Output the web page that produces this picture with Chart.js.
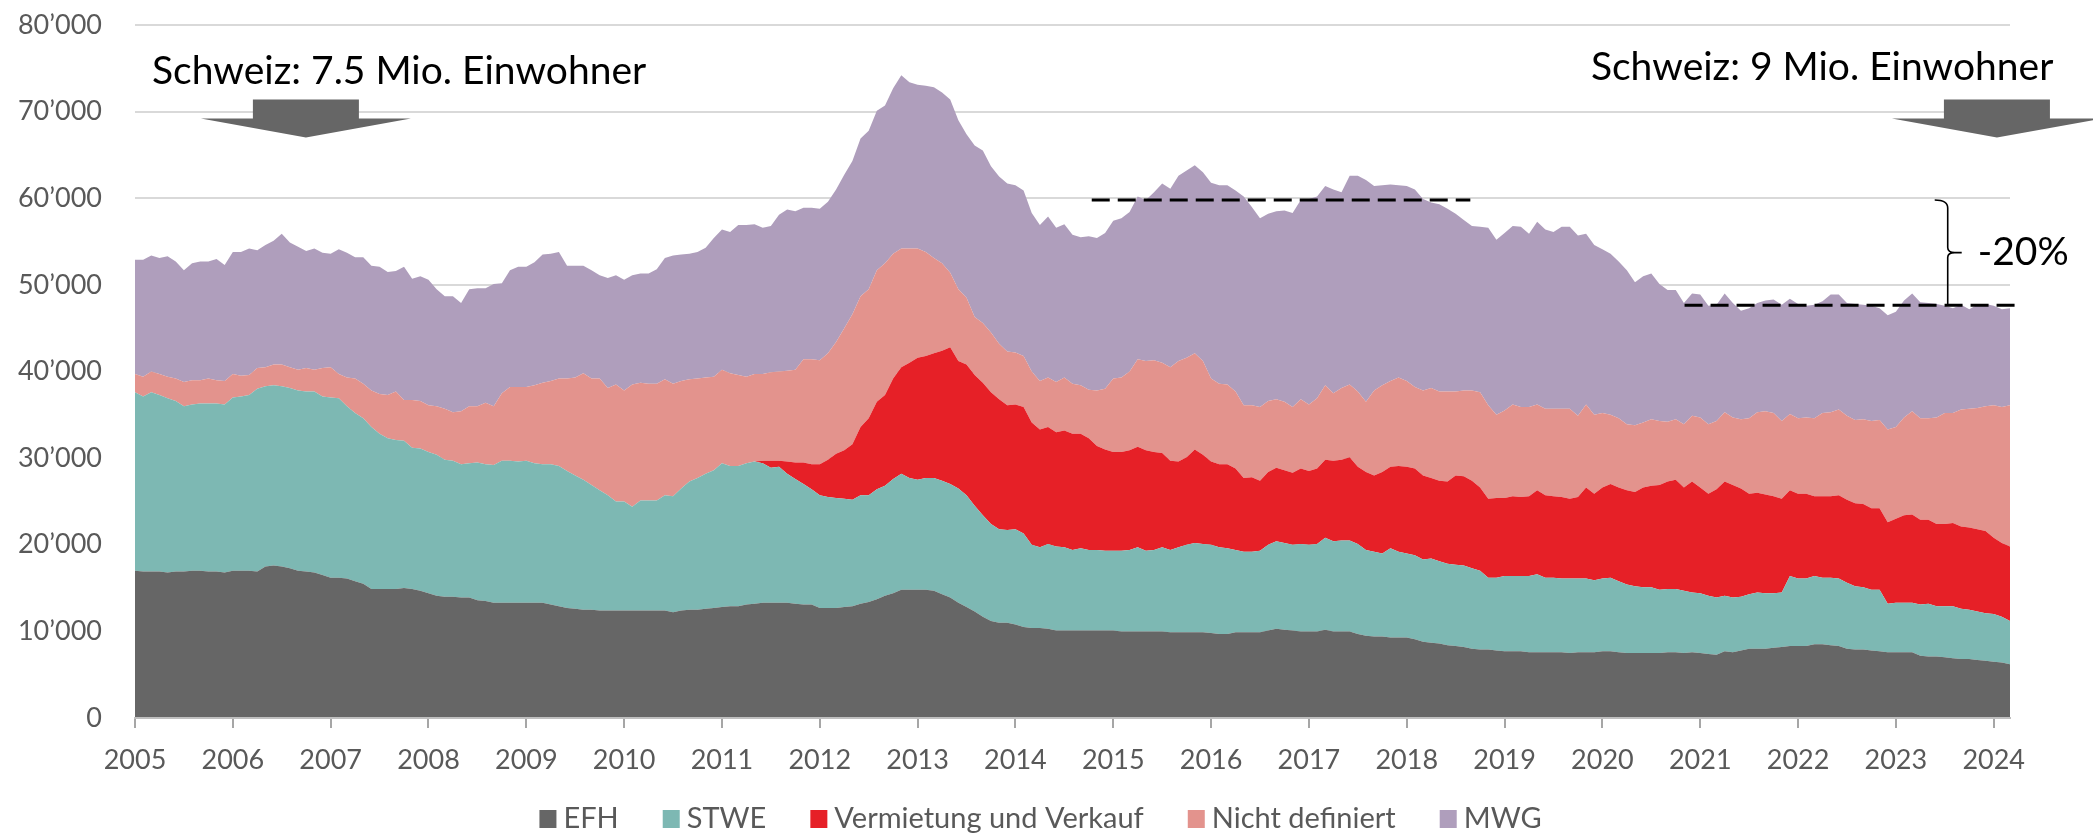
<!DOCTYPE html>
<html lang="de">
<head>
  <meta charset="UTF-8">
  <title>Inserate nach Objektart</title>
  <script src="https://cdn.jsdelivr.net/npm/chart.js"></script>
  <style>
    html, body { margin: 0; padding: 0; background: #fff; }
  </style>
</head>
<body>
  <canvas id="chart" width="2093" height="836"></canvas>

  <script>
    // Monthly values, January 2005 to March 2024 (one row per year)
    const startYear = 2005;

    const efh = [
      17000,16900,16900,16900,16800,16900,16900,17000,17000,16900,16900,16800,
      17000,17000,17000,16900,17500,17600,17500,17300,17000,16900,16800,16500,
      16200,16200,16100,15800,15500,14900,14900,14900,14900,15000,14900,14700,
      14400,14100,14000,14000,13900,13900,13600,13500,13300,13300,13300,13300,
      13300,13300,13300,13100,12900,12700,12600,12500,12500,12400,12400,12400,
      12400,12400,12400,12400,12400,12400,12200,12400,12500,12500,12600,12700,
      12800,12900,12900,13100,13200,13300,13300,13300,13300,13200,13100,13100,
      12700,12700,12700,12800,12900,13200,13400,13700,14100,14400,14800,14800,
      14800,14800,14700,14300,13900,13300,12800,12300,11700,11200,11000,11000,
      10800,10500,10400,10400,10300,10100,10100,10100,10100,10100,10100,10100,
      10100,10000,10000,10000,10000,10000,10000,9900,9900,9900,9900,9900,
      9800,9700,9700,9900,9900,9900,9900,10100,10300,10200,10100,10000,
      10000,10000,10200,10000,10000,10000,9700,9500,9400,9400,9300,9300,
      9300,9100,8800,8700,8600,8400,8300,8200,8000,7900,7900,7800,
      7700,7700,7700,7600,7600,7600,7600,7600,7500,7600,7600,7600,
      7700,7700,7600,7500,7500,7500,7500,7500,7600,7600,7500,7600,
      7500,7400,7300,7700,7600,7800,8000,8000,8000,8100,8200,8300,
      8300,8300,8500,8500,8400,8300,8000,7900,7900,7800,7700,7600,
      7600,7600,7600,7200,7100,7100,7000,6900,6800,6800,6700,6600,
      6500,6400,6200
    ];

    const stwe = [
      20600,20200,20700,20400,20100,19700,19100,19200,19300,19400,19400,19400,
      20000,20100,20300,21100,20800,20800,20800,20800,20800,20800,20900,20600,
      20800,20700,19900,19400,19100,18700,17900,17400,17200,17000,16300,16400,
      16300,16300,15800,15700,15400,15500,15900,15800,15900,16400,16400,16300,
      16400,16100,16000,16200,16200,15800,15400,15000,14400,13900,13300,12600,
      12600,12000,12700,12700,12700,13300,13400,14100,14800,15200,15600,15900,
      16600,16200,16200,16300,16400,16100,15600,15700,14900,14400,13900,13300,
      13000,12800,12700,12500,12300,12500,12300,12700,12700,13200,13400,12900,
      12700,12900,13000,13100,13100,13200,12900,12200,11700,11200,10800,10700,
      11000,10800,9600,9300,9800,9700,9600,9300,9500,9300,9300,9200,
      9200,9300,9400,9700,9300,9400,9700,9500,9800,10100,10300,10200,
      10200,10000,9900,9500,9300,9300,9400,9900,10100,10000,9900,10100,
      10000,10100,10600,10400,10500,10500,10400,9900,9800,9600,10300,9900,
      9700,9700,9500,9700,9500,9400,9400,9400,9300,9100,8300,8400,
      8700,8700,8700,8800,9000,8600,8600,8500,8600,8500,8500,8300,
      8400,8500,8200,7900,7700,7600,7600,7300,7300,7300,7200,6900,
      6900,6700,6600,6400,6300,6200,6300,6500,6400,6300,6300,8100,
      7800,7800,7900,7700,7800,7800,7600,7300,7200,7000,7100,5600,
      5700,5700,5700,5900,6100,5800,5900,6000,5800,5700,5600,5500,
      5500,5300,5000
    ];

    const vermietung = [
      0,0,0,0,0,0,0,0,0,0,0,0,
      0,0,0,0,0,0,0,0,0,0,0,0,
      0,0,0,0,0,0,0,0,0,0,0,0,
      0,0,0,0,0,0,0,0,0,0,0,0,
      0,0,0,0,0,0,0,0,0,0,0,0,
      0,0,0,0,0,0,0,0,0,0,0,0,
      0,0,0,0,0,300,800,700,1400,1900,2500,2900,
      3600,4300,5100,5600,6400,7900,8900,10100,10500,11600,12300,13300,
      14100,14100,14400,15000,15800,14700,15100,15100,15300,15200,15000,14400,
      14400,14600,14100,13600,13500,13200,13500,13400,13200,12900,12000,11700,
      11400,11400,11500,11600,11600,11300,10900,10300,9900,10100,10800,10300,
      9600,9600,9700,9400,8500,8600,8100,8400,8500,8400,8300,8700,
      8500,8700,9000,9300,9300,9600,8900,9000,8800,9400,9400,9900,
      10000,10000,9700,9300,9300,9500,10300,10300,10100,9600,9100,9200,
      9000,9200,9100,9200,9700,9500,9400,9400,9200,9400,10500,10000,
      10500,10800,10800,10900,10900,11500,11700,12100,12400,12600,11900,12800,
      12200,11800,12500,13200,13000,12500,11600,11500,11400,11200,10800,9900,
      9800,9800,9200,9400,9400,9600,9600,9600,9600,9400,9400,9400,
      9700,10100,10200,9800,9700,9500,9500,9600,9500,9500,9500,9500,
      8800,8500,8600
    ];

    const nichtDefiniert = [
      2100,2300,2400,2400,2500,2600,2800,2800,2700,2900,2700,2700,
      2700,2400,2300,2400,2200,2400,2500,2400,2400,2700,2500,3300,
      3500,2800,3300,4000,4000,4200,4600,5000,5600,4700,5500,5500,
      5400,5600,5900,5600,6100,6600,6500,7100,6800,7800,8500,8600,
      8500,9000,9400,9600,10100,10700,11300,12300,12300,12900,12400,13500,
      12800,14100,13600,13500,13500,13400,13000,12400,11800,11500,11100,10800,
      10800,10700,10500,10000,10100,10000,10200,10300,10500,10700,11900,12100,
      12000,12300,12900,14100,15000,15100,14900,15200,15200,14400,13700,13200,
      12600,12000,11000,10100,8600,8300,7700,6700,6900,6900,6400,6200,
      6000,5900,5900,5600,5700,5800,6100,5800,5600,5600,6400,7000,
      8500,8600,9100,10100,10300,10600,10400,10800,11600,11500,11100,10800,
      9600,9300,9200,8900,8400,8300,8500,8200,7900,7900,7600,8000,
      7700,8100,8600,7800,8300,8400,8700,8100,9800,10000,9900,10200,
      9900,9400,9800,10400,10300,10400,9700,9900,10400,11000,10800,9600,
      10100,10600,10400,10300,9900,10000,10100,10200,10400,9400,9600,9100,
      8600,8000,8000,7600,7700,7500,7700,7400,6900,7000,7300,7600,
      8100,8000,7900,8000,7800,8000,8700,9300,9600,9600,9000,8800,
      8700,8800,9000,9600,9700,9900,9700,9600,9800,10100,10200,10700,
      10600,11300,11900,11700,11700,12300,12800,12700,13500,13700,14000,14400,
      15300,15700,16300
    ];

    const mwg = [
      13200,13500,13400,13400,13900,13500,12900,13500,13700,13500,14000,13400,
      14100,14300,14600,13600,14100,14300,15100,14400,14200,13500,14000,13300,
      13100,14400,14400,14000,14600,14400,14700,14200,13900,15400,14000,14400,
      14500,13500,13000,13400,12500,13500,13600,13200,14100,12700,13500,13900,
      13900,14200,14800,14700,14600,13000,12900,12400,12500,11900,12700,12600,
      12800,12600,12600,12700,13200,14000,14800,14600,14500,14600,15000,16000,
      16200,16300,17300,17500,17300,16900,16900,18100,18600,18300,17500,17500,
      17500,17500,17600,17700,17700,18200,18300,18400,18200,19100,20000,19200,
      18900,19200,19700,19700,20000,19500,18900,19800,19900,19200,19300,19400,
      19300,19100,18300,18000,18600,17800,17700,17200,17100,17700,17600,18000,
      18200,18400,18400,18800,18600,19400,20700,20600,21400,21600,21700,21800,
      22600,22900,23000,23200,24100,22900,21800,21600,21700,22100,22400,23000,
      23700,23300,23000,23500,22600,24100,24900,25600,23600,23100,22700,22200,
      22500,22800,22100,21400,21600,21100,20500,19700,19000,19100,20500,20200,
      20500,20600,20800,20000,21100,20700,20400,21000,21000,20800,19700,19600,
      18900,18600,18100,17800,16500,16900,16800,15800,15200,14900,14000,14100,
      14200,13700,13400,13700,13200,12500,12700,12600,12800,13100,13400,13300,
      13200,12900,13100,12900,13600,13300,13000,13400,13200,13300,12900,13200,
      13300,13500,13600,13400,13300,13100,12400,12100,12100,11500,11900,11800,
      11500,11300,11200
    ];

    // month positions on the year axis
    const months = efh.map((_, i) => startYear + i / 12);

    // annotation values
    const levelBefore = { value: 59800, from: 2014.78, to: 2018.65 };
    const levelNow = { value: 47650, from: 2020.84, to: 2024.25 };
    const bracketAt = 2023.53;
    const dropText = '-20%';
    const populationNotes = [
      { text: 'Schweiz: 7.5 Mio. Einwohner', x: 2005.174, y: 73200, align: 'left', arrowX: 2006.747 },
      { text: 'Schweiz: 9 Mio. Einwohner', x: 2024.61, y: 73600, align: 'right', arrowX: 2024.033 }
    ];
    const arrowTip = 67000;

    const series = [
      { label: 'EFH', data: efh, color: '#666666' },
      { label: 'STWE', data: stwe, color: '#7DB8B3' },
      { label: 'Vermietung und Verkauf', data: vermietung, color: '#E62027' },
      { label: 'Nicht definiert', data: nichtDefiniert, color: '#E3938D' },
      { label: 'MWG', data: mwg, color: '#AF9EBC' }
    ];

    Chart.defaults.font.family = 'Lato';

    const annotations = {
      id: 'annotations',
      afterDraw(chart) {
        const { ctx, scales: { x, y } } = chart;
        ctx.save();

        // dashed level lines
        ctx.strokeStyle = '#000';
        ctx.lineWidth = 3;
        ctx.setLineDash([18, 8]);
        [levelBefore, levelNow].forEach(l => {
          const py = y.getPixelForValue(l.value);
          ctx.beginPath();
          ctx.moveTo(x.getPixelForValue(l.from), py);
          ctx.lineTo(x.getPixelForValue(l.to), py);
          ctx.stroke();
        });
        ctx.setLineDash([]);

        // curly bracket between the two levels
        const bx = x.getPixelForValue(bracketAt);
        const yt = y.getPixelForValue(levelBefore.value);
        const yb = y.getPixelForValue(levelNow.value);
        const ym = (yt + yb) / 2;
        ctx.lineWidth = 1.6;
        ctx.beginPath();
        ctx.moveTo(bx - 13, yt);
        ctx.quadraticCurveTo(bx, yt, bx, yt + 8);
        ctx.lineTo(bx, ym - 5);
        ctx.quadraticCurveTo(bx, ym, bx + 7, ym);
        ctx.quadraticCurveTo(bx, ym, bx, ym + 5);
        ctx.lineTo(bx, yb);
        ctx.moveTo(bx + 5, ym);
        ctx.lineTo(bx + 14, ym);
        ctx.stroke();

        ctx.fillStyle = '#000';
        ctx.font = '39px Lato';
        ctx.textAlign = 'left';
        ctx.textBaseline = 'middle';
        ctx.fillText(dropText, bx + 30, ym);

        // population notes and arrows
        ctx.textBaseline = 'alphabetic';
        ctx.font = '39px Lato';
        populationNotes.forEach(n => {
          ctx.fillStyle = '#000';
          ctx.textAlign = n.align;
          ctx.fillText(n.text, x.getPixelForValue(n.x), y.getPixelForValue(n.y));

          const ax = x.getPixelForValue(n.arrowX);
          const ay = y.getPixelForValue(arrowTip);
          ctx.fillStyle = '#666666';
          ctx.beginPath();
          ctx.moveTo(ax - 53, ay - 38);
          ctx.lineTo(ax + 53, ay - 38);
          ctx.lineTo(ax + 53, ay - 19);
          ctx.lineTo(ax + 105, ay - 19);
          ctx.lineTo(ax, ay);
          ctx.lineTo(ax - 105, ay - 19);
          ctx.lineTo(ax - 53, ay - 19);
          ctx.closePath();
          ctx.fill();
        });

        // legend
        ctx.font = '29px Lato';
        ctx.textAlign = 'left';
        const items = chart.data.datasets.map(d => ({ text: d.label, color: d.backgroundColor, w: ctx.measureText(d.label).width }));
        const box = 17, gap = 7, spacing = 44;
        const total = items.reduce((s, it) => s + box + gap + it.w, 0) + spacing * (items.length - 1);
        let lx = chart.width / 2 - 6 - total / 2;
        const base = 828;
        items.forEach(it => {
          ctx.fillStyle = it.color;
          ctx.fillRect(lx, base - 18, box, 18);
          ctx.fillStyle = '#595959';
          ctx.fillText(it.text, lx + box + gap, base);
          lx += box + gap + it.w + spacing;
        });

        ctx.restore();
      }
    };

    new Chart(document.getElementById('chart'), {
      type: 'line',
      data: {
        datasets: series.map((s, i) => ({
          label: s.label,
          data: s.data.map((v, k) => ({ x: months[k], y: v })),
          backgroundColor: s.color,
          borderColor: 'rgba(0,0,0,0)',
          borderWidth: 0,
          pointRadius: 0,
          tension: 0,
          fill: i === 0 ? 'origin' : '-1'
        }))
      },
      options: {
        responsive: false,
        animation: false,
        devicePixelRatio: 1,
        layout: { padding: { top: 25, right: 83, left: 0, bottom: 0 } },
        plugins: {
          legend: { display: false },
          tooltip: { enabled: false }
        },
        scales: {
          x: {
            type: 'linear',
            min: startYear,
            max: months[months.length - 1],
            afterFit(scale) { scale.height = 118; },
            grid: { drawOnChartArea: false, drawTicks: true, tickLength: 10, color: '#A6A6A6', lineWidth: 2 },
            border: { display: true, color: '#BFBFBF', width: 2, z: 1 },
            ticks: {
              stepSize: 1,
              includeBounds: false,
              autoSkip: false,
              maxRotation: 0,
              padding: 16,
              color: '#595959',
              font: { size: 27 },
              callback: v => String(Math.round(v))
            }
          },
          y: {
            stacked: true,
            min: 0,
            max: 80000,
            afterFit(scale) {
              scale.width = 135;
              // label padding should not push the plot area down
              scale.paddingTop = 0;
              scale.paddingBottom = 0;
            },
            grid: { color: '#D9D9D9', lineWidth: 2, drawTicks: false },
            border: { display: false },
            ticks: {
              stepSize: 10000,
              padding: 33,
              color: '#595959',
              font: { size: 27 },
              callback: v => v === 0 ? '0' : (v / 1000) + '’000'
            }
          }
        }
      },
      plugins: [annotations]
    });
  </script>
</body>
</html>
